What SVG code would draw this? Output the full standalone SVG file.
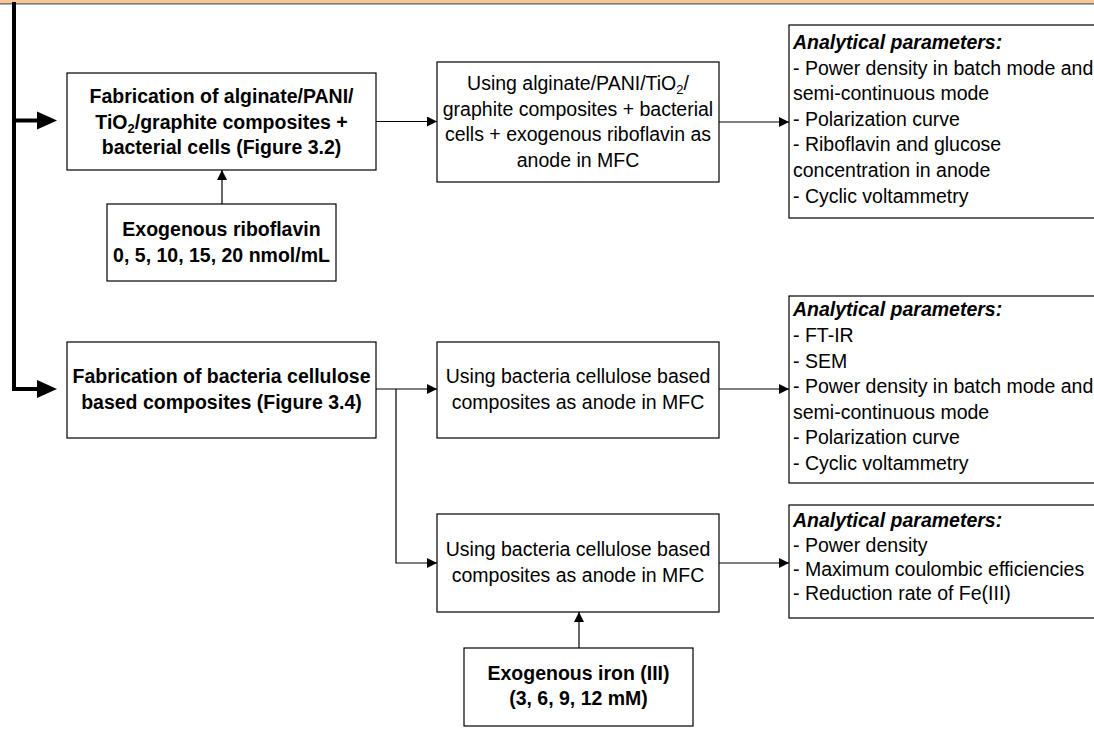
<svg xmlns="http://www.w3.org/2000/svg" width="1094" height="730" viewBox="0 0 1094 730">
<style>
.box{fill:#fff;stroke:#000;stroke-width:1.2}
.b{font-family:"Liberation Sans",Arial,sans-serif;font-size:19.5px;font-weight:bold;fill:#000;text-anchor:middle}
.r{font-family:"Liberation Sans",Arial,sans-serif;font-size:19.5px;fill:#000;text-anchor:middle}
.l{font-family:"Liberation Sans",Arial,sans-serif;font-size:19.5px;fill:#000}
.t{font-family:"Liberation Sans",Arial,sans-serif;font-size:19.5px;font-weight:bold;font-style:italic;fill:#000}
.c{fill:none;stroke:#000;stroke-width:1.2}
.thick{fill:none;stroke:#000;stroke-width:4}
</style>
<defs>
<marker id="ah" markerUnits="userSpaceOnUse" markerWidth="10" markerHeight="10" viewBox="0 0 10 10" refX="10" refY="5" orient="auto">
<path d="M0,0 L10,5 L0,10 Z" fill="#000"/>
</marker>
</defs>
<rect x="0" y="0" width="1094" height="3" fill="#FAC597"/>
<rect x="0" y="3" width="1094" height="1.6" fill="#7a7a7a"/>

<g id="connectors">
<path class="thick" d="M14,2 V389 H40"/>
<path class="thick" d="M14,120.5 H40"/>
<polygon points="37,111.5 57,120.5 37,129.5" fill="#000"/>
<polygon points="37,380 57,389 37,398" fill="#000"/>
<path class="c" d="M376,121.5 H437" marker-end="url(#ah)"/>
<path class="c" d="M719,122 H789" marker-end="url(#ah)"/>
<path class="c" d="M222,204 V170" marker-end="url(#ah)"/>
<path class="c" d="M376,389 H437" marker-end="url(#ah)"/>
<path class="c" d="M396,389 V563 H437" marker-end="url(#ah)"/>
<path class="c" d="M719,389 H789" marker-end="url(#ah)"/>
<path class="c" d="M719,563 H789" marker-end="url(#ah)"/>
<path class="c" d="M579,648 V612" marker-end="url(#ah)"/>
</g>

<g id="fab1">
<rect class="box" x="67" y="73" width="309" height="97"/>
<text class="b" x="221.5" y="103">Fabrication of alginate/PANI/</text>
<text class="b" x="221.5" y="128.5">TiO<tspan font-size="13" dy="4">2</tspan><tspan dy="-4">/graphite composites +</tspan></text>
<text class="b" x="221.5" y="154">bacterial cells (Figure 3.2)</text>
</g>

<g id="riboflavin">
<rect class="box" x="107" y="204" width="229" height="77"/>
<text class="b" x="221.5" y="236">Exogenous riboflavin</text>
<text class="b" x="221.5" y="262">0, 5, 10, 15, 20 nmol/mL</text>
</g>

<g id="use1">
<rect class="box" x="437" y="62" width="282" height="120"/>
<text class="r" x="578" y="90">Using alginate/PANI/TiO<tspan font-size="13" dy="4">2</tspan><tspan dy="-4">/</tspan></text>
<text class="r" x="578" y="115.5">graphite composites + bacterial</text>
<text class="r" x="578" y="141">cells + exogenous riboflavin as</text>
<text class="r" x="578" y="166.5">anode in MFC</text>
</g>

<g id="an1">
<rect class="box" x="789" y="25" width="400" height="193"/>
<text class="t" x="793" y="49">Analytical parameters:</text>
<text class="l" x="793" y="74.6">- Power density in batch mode and</text>
<text class="l" x="793" y="100.2">semi-continuous mode</text>
<text class="l" x="793" y="125.8">- Polarization curve</text>
<text class="l" x="793" y="151.4">- Riboflavin and glucose</text>
<text class="l" x="793" y="177">concentration in anode</text>
<text class="l" x="793" y="202.6">- Cyclic voltammetry</text>
</g>

<g id="fab2">
<rect class="box" x="67" y="342" width="309" height="96"/>
<text class="b" x="221.5" y="383">Fabrication of bacteria cellulose</text>
<text class="b" x="221.5" y="409">based composites (Figure 3.4)</text>
</g>

<g id="use2">
<rect class="box" x="437" y="342" width="282" height="96"/>
<text class="r" x="578" y="383">Using bacteria cellulose based</text>
<text class="r" x="578" y="409">composites as anode in MFC</text>
</g>

<g id="an2">
<rect class="box" x="789" y="296" width="400" height="187"/>
<text class="t" x="793" y="316">Analytical parameters:</text>
<text class="l" x="793" y="342">- FT-IR</text>
<text class="l" x="793" y="368">- SEM</text>
<text class="l" x="793" y="393">- Power density in batch mode and</text>
<text class="l" x="793" y="419">semi-continuous mode</text>
<text class="l" x="793" y="444">- Polarization curve</text>
<text class="l" x="793" y="470">- Cyclic voltammetry</text>
</g>

<g id="use3">
<rect class="box" x="437" y="514" width="282" height="98"/>
<text class="r" x="578" y="556">Using bacteria cellulose based</text>
<text class="r" x="578" y="582">composites as anode in MFC</text>
</g>

<g id="an3">
<rect class="box" x="789" y="505" width="400" height="113"/>
<text class="t" x="793" y="527">Analytical parameters:</text>
<text class="l" x="793" y="552">- Power density</text>
<text class="l" x="793" y="576">- Maximum coulombic efficiencies</text>
<text class="l" x="793" y="600">- Reduction rate of Fe(III)</text>
</g>

<g id="iron">
<rect class="box" x="464" y="648" width="229" height="78"/>
<text class="b" x="578.5" y="680">Exogenous iron (III)</text>
<text class="b" x="578.5" y="705">(3, 6, 9, 12 mM)</text>
</g>
</svg>
